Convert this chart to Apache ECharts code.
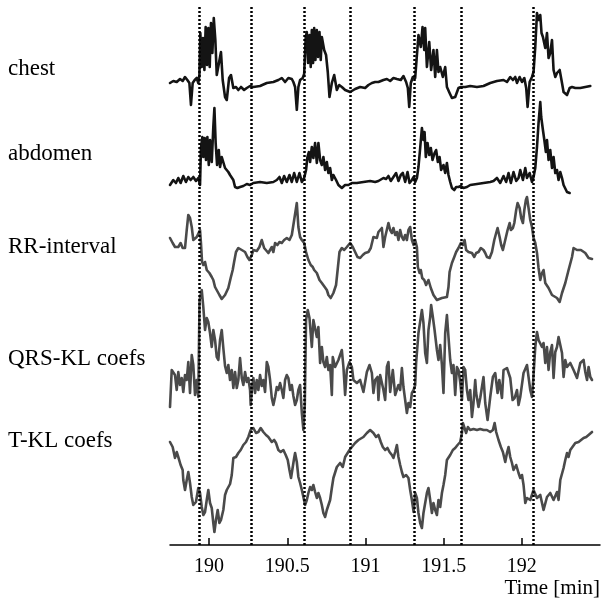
<!DOCTYPE html>
<html>
<head>
<meta charset="utf-8">
<script src="https://cdn.jsdelivr.net/npm/echarts@6/dist/echarts.min.js"></script>
<style>
html,body{margin:0;padding:0;background:#fff;}
#chart{width:605px;height:608px;}
</style>
</head>
<body>
<div id="chart"></div>
<script>
// time [min], amplitude (arbitrary units)
var chest = [[189.750,27],[189.771,29],[189.793,28],[189.814,31],[189.831,29],[189.846,33],[189.861,30],[189.874,27],[189.884,5],[189.895,27],[189.908,30],[189.921,32],[189.931,27],[189.938,35],[189.944,77],[189.953,43],[189.961,72],[189.970,40],[189.978,83],[189.987,45],[189.995,82],[190.004,43],[190.012,87],[190.021,57],[190.030,92],[190.040,70],[190.049,35],[190.059,33],[190.076,58],[190.087,30],[190.102,13],[190.113,10],[190.128,32],[190.140,35],[190.155,22],[190.172,23],[190.187,20],[190.204,23],[190.224,20],[190.241,22],[190.262,24],[190.283,23],[190.326,24],[190.369,27],[190.411,28],[190.443,30],[190.465,32],[190.486,28],[190.507,32],[190.529,31],[190.539,28],[190.550,23],[190.561,0],[190.571,23],[190.582,30],[190.599,32],[190.608,36],[190.618,73],[190.625,78],[190.633,47],[190.642,75],[190.650,43],[190.657,80],[190.665,47],[190.672,82],[190.680,50],[190.689,80],[190.697,53],[190.706,78],[190.714,50],[190.721,73],[190.736,60],[190.748,55],[190.759,38],[190.770,13],[190.785,27],[190.800,35],[190.817,20],[190.832,25],[190.849,23],[190.870,20],[190.902,18],[190.934,21],[190.966,23],[190.998,22],[191.019,25],[191.041,27],[191.062,28],[191.083,28],[191.115,30],[191.137,31],[191.158,29],[191.179,32],[191.201,31],[191.211,33],[191.226,30],[191.243,34],[191.260,28],[191.271,22],[191.280,3],[191.290,27],[191.303,33],[191.318,32],[191.329,33],[191.339,75],[191.346,77],[191.354,63],[191.365,83],[191.376,60],[191.382,82],[191.393,43],[191.408,68],[191.420,40],[191.435,60],[191.446,33],[191.457,60],[191.467,38],[191.478,43],[191.495,33],[191.510,43],[191.521,23],[191.538,17],[191.553,12],[191.574,13],[191.595,22],[191.610,23],[191.638,23],[191.670,24],[191.713,23],[191.755,24],[191.798,27],[191.841,29],[191.883,30],[191.905,28],[191.926,33],[191.943,30],[191.958,33],[191.969,27],[191.986,33],[192.001,28],[192.016,32],[192.028,22],[192.037,3],[192.050,28],[192.065,33],[192.075,38],[192.086,63],[192.097,97],[192.107,90],[192.118,95],[192.126,77],[192.135,73],[192.150,62],[192.161,77],[192.171,52],[192.182,57],[192.193,70],[192.203,40],[192.214,33],[192.225,37],[192.242,40],[192.257,27],[192.267,18],[192.289,15],[192.306,22],[192.321,23],[192.342,22],[192.374,22],[192.406,23],[192.438,24]];

var abdomen = [[189.750,5],[189.771,10],[189.788,7],[189.803,12],[189.818,7],[189.835,14],[189.852,8],[189.867,13],[189.882,10],[189.899,13],[189.916,9],[189.931,12],[189.942,5],[189.948,42],[189.957,53],[189.963,33],[189.972,52],[189.980,30],[189.989,53],[189.998,25],[190.006,50],[190.017,28],[190.027,63],[190.034,82],[190.042,47],[190.051,25],[190.062,40],[190.070,23],[190.081,33],[190.091,32],[190.102,22],[190.113,23],[190.123,18],[190.134,15],[190.145,17],[190.155,10],[190.166,3],[190.181,2],[190.198,3],[190.219,4],[190.241,6],[190.262,5],[190.283,7],[190.326,8],[190.369,7],[190.411,8],[190.433,10],[190.450,13],[190.465,7],[190.480,14],[190.497,8],[190.514,15],[190.529,8],[190.544,17],[190.561,8],[190.578,17],[190.593,8],[190.608,12],[190.620,20],[190.629,33],[190.638,38],[190.646,28],[190.657,43],[190.667,32],[190.678,47],[190.689,27],[190.699,47],[190.710,30],[190.721,25],[190.731,33],[190.742,20],[190.753,28],[190.763,17],[190.774,22],[190.785,10],[190.795,15],[190.812,10],[190.827,5],[190.849,2],[190.870,5],[190.891,5],[190.913,7],[190.945,7],[190.987,8],[191.030,9],[191.062,8],[191.083,9],[191.115,12],[191.132,11],[191.147,14],[191.162,9],[191.179,13],[191.196,17],[191.211,9],[191.226,15],[191.239,17],[191.254,8],[191.269,18],[191.282,7],[191.297,10],[191.308,13],[191.318,8],[191.329,12],[191.339,23],[191.350,42],[191.361,62],[191.371,50],[191.378,58],[191.386,33],[191.397,47],[191.408,35],[191.418,42],[191.429,30],[191.442,37],[191.452,40],[191.463,28],[191.474,33],[191.484,20],[191.499,25],[191.510,17],[191.521,27],[191.531,15],[191.542,8],[191.553,2],[191.568,0],[191.580,3],[191.595,3],[191.610,4],[191.627,2],[191.649,3],[191.670,5],[191.713,6],[191.755,7],[191.798,8],[191.819,9],[191.841,12],[191.862,7],[191.883,14],[191.900,8],[191.915,17],[191.930,7],[191.947,18],[191.964,9],[191.979,12],[191.990,20],[192.007,10],[192.022,22],[192.033,12],[192.050,17],[192.065,8],[192.075,13],[192.086,22],[192.097,43],[192.107,67],[192.118,88],[192.124,73],[192.135,60],[192.144,50],[192.154,38],[192.161,50],[192.171,30],[192.182,40],[192.193,22],[192.203,33],[192.214,17],[192.225,20],[192.235,10],[192.246,18],[192.257,12],[192.267,5],[192.289,-2],[192.306,-3]];

var rrInterval = [[189.750,72],[189.767,67],[189.782,63],[189.803,63],[189.818,67],[189.831,62],[189.846,62],[189.857,80],[189.867,95],[189.878,92],[189.889,83],[189.899,70],[189.910,68],[189.921,73],[189.931,72],[189.942,80],[189.948,67],[189.955,48],[189.963,45],[189.974,48],[189.985,40],[190.002,37],[190.017,33],[190.027,30],[190.038,23],[190.049,22],[190.066,15],[190.081,11],[190.102,15],[190.123,22],[190.138,32],[190.151,40],[190.160,48],[190.172,58],[190.187,62],[190.209,60],[190.230,58],[190.245,53],[190.258,50],[190.273,55],[190.283,60],[190.305,59],[190.322,63],[190.337,70],[190.352,62],[190.364,63],[190.379,57],[190.390,58],[190.401,63],[190.411,58],[190.422,67],[190.437,65],[190.450,68],[190.465,67],[190.480,70],[190.497,72],[190.514,70],[190.529,75],[190.544,90],[190.561,107],[190.571,83],[190.582,73],[190.593,70],[190.608,67],[190.620,58],[190.635,50],[190.650,45],[190.663,43],[190.672,40],[190.689,37],[190.706,30],[190.721,27],[190.731,27],[190.753,20],[190.763,15],[190.778,12],[190.795,17],[190.812,25],[190.822,40],[190.834,58],[190.849,62],[190.864,60],[190.881,63],[190.902,67],[190.919,63],[190.934,58],[190.949,53],[190.966,52],[190.983,55],[190.998,57],[191.019,58],[191.034,62],[191.051,73],[191.062,75],[191.073,72],[191.083,78],[191.094,77],[191.105,82],[191.115,63],[191.126,73],[191.141,83],[191.147,87],[191.158,80],[191.169,77],[191.179,82],[191.190,75],[191.201,78],[191.211,70],[191.222,80],[191.233,73],[191.243,70],[191.254,75],[191.265,70],[191.275,80],[191.286,83],[191.297,70],[191.308,65],[191.318,70],[191.329,63],[191.335,43],[191.346,37],[191.354,40],[191.363,32],[191.376,30],[191.388,25],[191.403,30],[191.418,22],[191.435,15],[191.457,10],[191.489,12],[191.521,13],[191.531,23],[191.538,38],[191.553,47],[191.568,53],[191.580,58],[191.595,62],[191.610,67],[191.623,65],[191.634,70],[191.644,60],[191.659,58],[191.670,60],[191.681,57],[191.696,53],[191.708,57],[191.723,58],[191.738,62],[191.755,60],[191.766,57],[191.777,53],[191.794,52],[191.809,58],[191.824,70],[191.836,77],[191.845,82],[191.858,73],[191.868,65],[191.879,60],[191.894,70],[191.909,80],[191.922,87],[191.930,80],[191.943,82],[191.952,87],[191.964,100],[191.973,107],[191.986,102],[191.996,92],[192.007,87],[192.016,100],[192.026,110],[192.033,113],[192.043,102],[192.054,90],[192.065,83],[192.075,72],[192.086,67],[192.097,57],[192.107,42],[192.118,30],[192.129,37],[192.139,40],[192.150,27],[192.161,25],[192.171,22],[192.193,15],[192.225,12],[192.242,8],[192.257,17],[192.278,27],[192.299,40],[192.321,53],[192.331,62],[192.353,60],[192.378,60],[192.406,57],[192.427,52],[192.449,51]];

var qrsKL = [[189.750,33],[189.761,70],[189.771,72],[189.782,65],[189.793,50],[189.803,68],[189.814,55],[189.825,62],[189.835,48],[189.846,65],[189.857,60],[189.867,78],[189.878,47],[189.889,85],[189.899,75],[189.910,45],[189.921,60],[189.931,43],[189.939,140],[189.953,150],[189.963,133],[189.974,110],[189.985,122],[189.995,118],[190.006,107],[190.017,93],[190.027,110],[190.038,100],[190.049,83],[190.059,80],[190.070,100],[190.081,110],[190.091,92],[190.102,74],[190.113,67],[190.123,75],[190.134,60],[190.145,70],[190.155,52],[190.166,68],[190.177,52],[190.187,60],[190.198,82],[190.209,62],[190.219,55],[190.230,68],[190.241,58],[190.251,62],[190.262,50],[190.266,35],[190.275,53],[190.283,62],[190.294,47],[190.305,60],[190.315,50],[190.326,65],[190.337,54],[190.347,60],[190.358,48],[190.369,78],[190.379,73],[190.390,60],[190.401,42],[190.411,35],[190.422,43],[190.433,53],[190.443,50],[190.454,57],[190.465,50],[190.475,42],[190.486,60],[190.497,65],[190.507,62],[190.518,50],[190.529,55],[190.539,44],[190.550,35],[190.561,40],[190.571,50],[190.582,55],[190.593,27],[190.603,10],[190.612,35],[190.620,120],[190.631,130],[190.642,122],[190.657,93],[190.667,120],[190.678,122],[190.689,103],[190.699,113],[190.710,77],[190.721,93],[190.731,78],[190.742,73],[190.753,83],[190.763,70],[190.774,75],[190.785,45],[190.791,83],[190.806,73],[190.827,80],[190.849,90],[190.859,73],[190.870,45],[190.881,70],[190.898,78],[190.913,73],[190.923,60],[190.945,57],[190.966,60],[190.987,48],[191.009,68],[191.026,75],[191.041,67],[191.051,47],[191.062,60],[191.077,63],[191.083,40],[191.094,65],[191.105,65],[191.115,50],[191.126,40],[191.137,73],[191.147,78],[191.158,48],[191.175,70],[191.190,45],[191.201,43],[191.211,55],[191.222,50],[191.233,72],[191.243,53],[191.254,40],[191.265,27],[191.275,37],[191.286,33],[191.297,47],[191.308,50],[191.318,55],[191.324,77],[191.339,107],[191.361,130],[191.371,117],[191.382,87],[191.393,77],[191.403,110],[191.414,123],[191.420,135],[191.431,123],[191.442,110],[191.457,90],[191.467,80],[191.478,95],[191.489,75],[191.499,47],[191.510,107],[191.521,125],[191.531,103],[191.542,80],[191.553,67],[191.563,75],[191.574,45],[191.585,73],[191.595,70],[191.606,58],[191.617,40],[191.627,73],[191.638,70],[191.649,50],[191.659,40],[191.670,50],[191.681,23],[191.691,37],[191.702,60],[191.708,47],[191.723,33],[191.734,42],[191.745,53],[191.755,63],[191.766,37],[191.781,20],[191.798,43],[191.815,63],[191.830,67],[191.845,47],[191.856,60],[191.873,42],[191.883,70],[191.905,72],[191.926,62],[191.941,40],[191.954,42],[191.969,50],[191.979,35],[191.990,43],[192.011,67],[192.033,75],[192.043,63],[192.054,50],[192.065,43],[192.073,60],[192.086,93],[192.097,108],[192.107,100],[192.118,102],[192.129,93],[192.139,97],[192.150,77],[192.161,93],[192.171,70],[192.182,88],[192.193,95],[192.203,62],[192.214,88],[192.225,93],[192.235,103],[192.246,105],[192.257,87],[192.267,63],[192.278,80],[192.289,73],[192.299,72],[192.310,77],[192.321,78],[192.331,70],[192.353,62],[192.374,77],[192.395,80],[192.406,68],[192.417,60],[192.427,73],[192.438,63],[192.449,60]];

var tKL = [[189.750,98],[189.767,93],[189.782,82],[189.793,88],[189.803,83],[189.818,75],[189.831,70],[189.835,60],[189.846,50],[189.857,60],[189.867,68],[189.878,57],[189.889,43],[189.899,35],[189.916,38],[189.931,52],[189.942,47],[189.953,33],[189.963,25],[189.974,28],[189.985,40],[189.995,50],[190.006,37],[190.017,32],[190.027,17],[190.034,8],[190.044,20],[190.055,30],[190.066,17],[190.076,20],[190.091,30],[190.102,45],[190.113,50],[190.123,52],[190.134,56],[190.145,65],[190.155,82],[190.172,83],[190.187,87],[190.202,90],[190.219,95],[190.236,98],[190.251,103],[190.266,110],[190.283,112],[190.300,107],[190.315,108],[190.330,112],[190.347,108],[190.364,105],[190.379,103],[190.401,98],[190.416,100],[190.428,97],[190.443,90],[190.458,88],[190.475,90],[190.490,85],[190.503,80],[190.514,70],[190.524,62],[190.535,73],[190.544,82],[190.550,87],[190.561,78],[190.571,63],[190.582,57],[190.593,50],[190.603,43],[190.614,35],[190.625,40],[190.635,47],[190.646,53],[190.657,50],[190.667,55],[190.678,48],[190.689,42],[190.699,47],[190.710,42],[190.721,35],[190.731,27],[190.742,23],[190.753,30],[190.774,40],[190.785,52],[190.795,62],[190.817,73],[190.838,77],[190.855,73],[190.870,83],[190.881,82],[190.898,90],[190.913,93],[190.934,97],[190.955,100],[190.966,102],[190.987,103],[191.009,107],[191.030,110],[191.051,107],[191.068,103],[191.083,105],[191.098,98],[191.111,93],[191.126,90],[191.141,92],[191.154,88],[191.169,85],[191.179,82],[191.190,88],[191.201,95],[191.211,83],[191.222,75],[191.233,68],[191.243,63],[191.260,65],[191.275,62],[191.286,50],[191.297,40],[191.308,28],[191.318,47],[191.329,42],[191.339,27],[191.350,17],[191.361,12],[191.371,27],[191.382,37],[191.393,47],[191.403,52],[191.414,40],[191.425,27],[191.435,37],[191.446,30],[191.457,25],[191.467,40],[191.478,33],[191.489,47],[191.499,55],[191.510,65],[191.521,80],[191.542,85],[191.559,90],[191.574,92],[191.589,95],[191.606,98],[191.617,107],[191.623,117],[191.632,118],[191.644,107],[191.655,113],[191.670,110],[191.691,111],[191.713,110],[191.734,111],[191.755,110],[191.777,110],[191.798,108],[191.815,110],[191.826,117],[191.836,108],[191.851,100],[191.866,93],[191.879,88],[191.894,78],[191.905,87],[191.915,93],[191.926,83],[191.937,77],[191.947,70],[191.964,75],[191.979,67],[191.990,62],[192.001,65],[192.011,55],[192.022,37],[192.033,42],[192.054,40],[192.075,50],[192.097,42],[192.118,45],[192.139,30],[192.161,43],[192.182,47],[192.203,40],[192.225,48],[192.235,40],[192.246,60],[192.267,72],[192.278,80],[192.289,87],[192.299,83],[192.310,90],[192.321,88],[192.342,97],[192.363,98],[192.374,100],[192.395,102],[192.412,103],[192.427,105],[192.449,108]];

var eventTimes = [189.936, 190.268, 190.614, 190.902, 191.312, 191.610, 192.073];
var tickValues = [190, 190.5, 191, 191.5, 192];
var traceNames = ['chest', 'abdomen', 'RR-interval', 'QRS-KL coefs', 'T-KL coefs'];

var chart = echarts.init(document.getElementById('chart'));
var serif = 'Liberation Serif';
var xMin = 189.75, xMax = 192.5;

// one band per trace, plus a full-height grid for the axis and the dotted markers
var bands = [
  {top: 0,   height: 110, min: 0,   max: 110, data: chest,      color: '#141414'},
  {top: 80,  height: 120, min: -10, max: 110, data: abdomen,    color: '#141414'},
  {top: 190, height: 120, min: 0,   max: 120, data: rrInterval, color: '#4a4a4a'},
  {top: 280, height: 160, min: 0,   max: 160, data: qrsKL,      color: '#4a4a4a'},
  {top: 420, height: 120, min: 0,   max: 120, data: tKL,        color: '#4a4a4a'}
];
var labelY = [70, 155, 248, 360, 442];

var grids = [{left: 170, right: 5, top: 5, height: 540}];
var xAxes = [{
  type: 'value', gridIndex: 0, min: xMin, max: xMax,
  axisLine: {lineStyle: {color: '#000', width: 1.5}},
  axisTick: {inside: true, length: 7, customValues: tickValues, lineStyle: {color: '#000', width: 1.5}},
  axisLabel: {customValues: tickValues, color: '#000', fontFamily: serif, fontSize: 20, margin: 12},
  splitLine: {show: false}
}];
var yAxes = [{type: 'value', gridIndex: 0, min: 0, max: 1, show: false}];
var series = [{
  type: 'line', xAxisIndex: 0, yAxisIndex: 0, data: [[xMin, 0]], symbol: 'none',
  lineStyle: {opacity: 0}, silent: true, z: 5,
  markLine: {
    silent: true, symbol: ['none', 'none'], label: {show: false},
    lineStyle: {color: '#000', width: 2.5, type: [2, 2]},
    data: eventTimes.map(function (t) { return {xAxis: t}; })
  }
}];

bands.forEach(function (b, i) {
  var k = i + 1;
  grids.push({left: 170, right: 5, top: b.top, height: b.height});
  xAxes.push({type: 'value', gridIndex: k, min: xMin, max: xMax, show: false});
  yAxes.push({type: 'value', gridIndex: k, min: b.min, max: b.max, show: false});
  series.push({
    name: traceNames[i], type: 'line', xAxisIndex: k, yAxisIndex: k,
    data: b.data, symbol: 'none', z: 3,
    lineStyle: {color: b.color, width: 2.6, join: 'round', cap: 'round'}
  });
});

var texts = traceNames.map(function (n, i) {
  return {type: 'text', left: 8, top: labelY[i] - 13,
    style: {text: n, fill: '#000', font: '23px "Liberation Serif"'}};
});
texts.push({type: 'text', right: 5, top: 578,
  style: {text: 'Time [min]', fill: '#000', font: '21px "Liberation Serif"'}});

chart.setOption({
  animation: false,
  backgroundColor: '#fff',
  grid: grids,
  xAxis: xAxes,
  yAxis: yAxes,
  series: series,
  graphic: texts
});
</script>
</body>
</html>
